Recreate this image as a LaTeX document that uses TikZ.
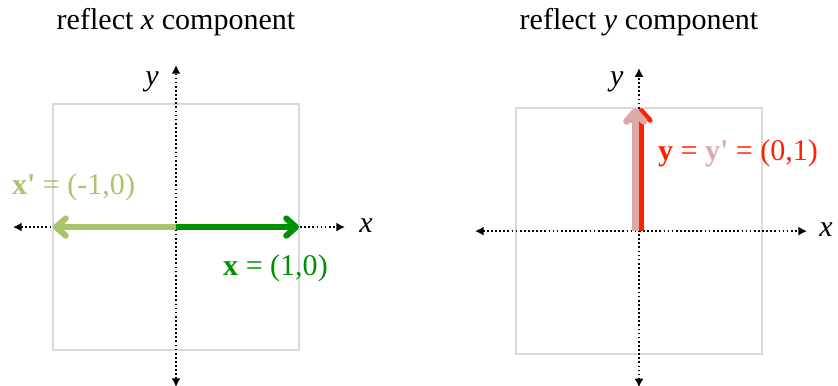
\documentclass[tikz,border=0pt]{standalone}
\usepackage{fontspec}
\setmainfont{Liberation Serif}
\usetikzlibrary{arrows.meta}
\definecolor{boxgray}{RGB}{217,217,217}
\definecolor{xgreen}{RGB}{0,145,0}
\definecolor{xlgreen}{RGB}{169,196,108}
\definecolor{yred}{RGB}{255,34,0}
\definecolor{ypink}{RGB}{222,168,168}
\begin{document}
\begin{tikzpicture}[x=2cm, y=2cm,
	ax/.style = {line width=0.9pt, dash pattern=on 0.8pt off 1.1pt, {Latex[length=4pt,width=4.2pt]}-{Latex[length=4pt,width=4.2pt]}},
	frame/.style = {draw=boxgray, line width=0.9pt},
	v/.style = {line width=2.8pt, -{Straight Barb[round, length=4.5pt, width=8pt]}},
	l/.style = {font=\fontsize{13.9}{16}\selectfont, inner sep=0pt}
	]
	\useasboundingbox (-1.431,-1.285) rectangle (5.382,1.846);
	
	% === === === Left panel ===
	\coordinate (L-O)  at (0,0);
	\coordinate (L-xw) at (-1.325,0);
	\coordinate (L-xe) at (1.374,0);
	\coordinate (L-ys) at (0,-1.30);
	\coordinate (L-yn) at (0,1.317);
	\coordinate (L-p)  at (1,0);
	\coordinate (L-m)  at (-1,0);
	
	\node[l] (L-title) at (0,1.667) {reflect \textit{x} component};
	\draw[frame] (-1,-1) rectangle (1,1);
	\draw[ax] (L-xw) -- (L-xe);
	\draw[ax] (L-ys) -- (L-yn);
	\node[l] (L-x) at (1.545,0.01) {\textit{x}};
	\node[l] (L-y) at (-0.195,1.18) {\textit{y}};
	
	\draw[v, xlgreen] (L-O) -- (L-m);
	\draw[v, xgreen] (L-O) -- (L-p);
	\node[l, text=xlgreen] (L-lm) at (-0.833,0.325) {\textbf{x\textquotesingle} = (-1,0)};
	\node[l, text=xgreen] (L-lp) at (0.809,-0.333) {\textbf{x} = (1,0)};
	
	% === === === Right panel ===
	\begin{scope}[shift={(3.764,-0.033)}]
	\coordinate (R-O)  at (0,0);
	\coordinate (R-xw) at (-1.333,0);
	\coordinate (R-xe) at (1.366,0);
	\coordinate (R-ys) at (0,-1.27);
	\coordinate (R-yn) at (0,1.325);
	\coordinate (R-r0) at (0.02,0);
	\coordinate (R-r1) at (0.02,1);
	\coordinate (R-p0) at (-0.03,0);
	\coordinate (R-p1) at (-0.03,1);
	
	\node[l] (R-title) at (0,1.70) {reflect \textit{y} component};
	\draw[frame] (-1,-1) rectangle (1,1);
	\draw[ax] (R-xw) -- (R-xe);
	\draw[ax] (R-ys) -- (R-yn);
	\node[l] (R-x) at (1.52,0.01) {\textit{x}};
	\node[l] (R-y) at (-0.18,1.21) {\textit{y}};
	
	\draw[v, yred, line width=2.3pt] (R-r0) -- (R-r1);
	\draw[v, ypink, line width=3.2pt] (R-p0) -- (R-p1);
	\node[l, text=yred] (R-l) at (0.805,0.634) {\textbf{y} = \textcolor{ypink}{\textbf{y\textquotesingle}} = (0,1)};
	\end{scope}
\end{tikzpicture}
\end{document}
